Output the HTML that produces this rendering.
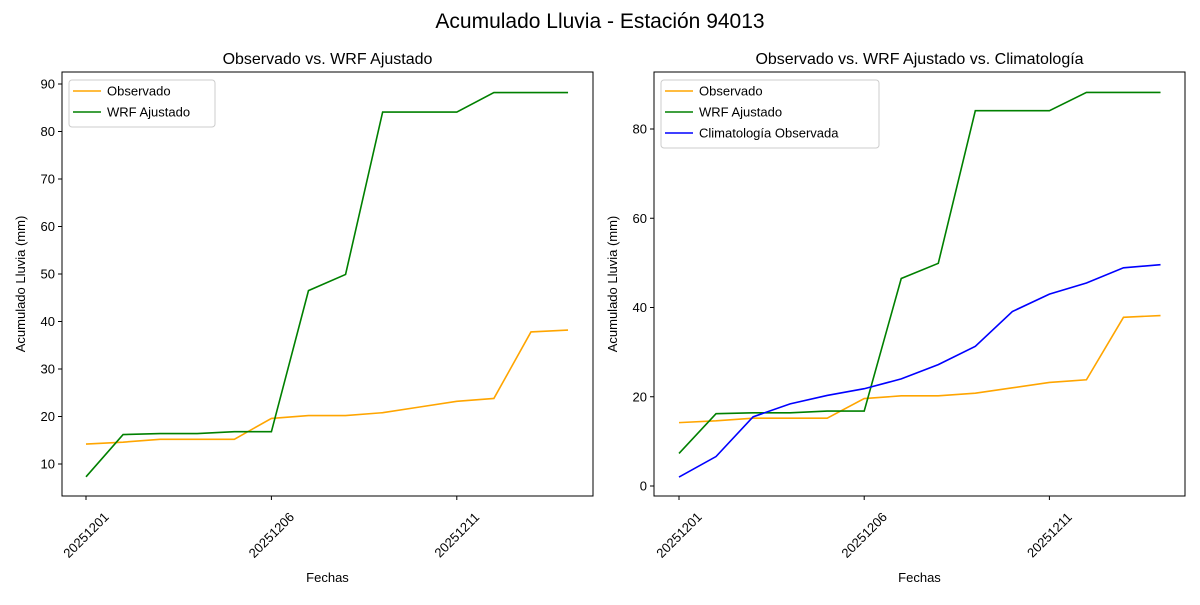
<!DOCTYPE html>
<html><head><meta charset="utf-8"><style>
body{margin:0;background:#fff}
svg text{font-family:"Liberation Sans","DejaVu Sans",sans-serif;fill:#000}
</style></head><body>
<svg id="s" width="1200" height="600" xmlns="http://www.w3.org/2000/svg">
<rect width="1200" height="600" fill="#fff"/>
<text x="600" y="28" font-size="21" text-anchor="middle">Acumulado Lluvia - Estación 94013</text>
</svg>
<script>
const s=document.getElementById('s');
const NS='http://www.w3.org/2000/svg';
function el(t,a,txt){const e=document.createElementNS(NS,t);for(const k in a)e.setAttribute(k,a[k]);if(txt!==undefined)e.textContent=txt;s.appendChild(e);return e;}
const obs=[14.2,14.6,15.2,15.2,15.2,19.6,20.2,20.2,20.8,22,23.2,23.8,37.8,38.2];
const wrf=[7.3,16.2,16.4,16.4,16.8,16.8,46.5,49.9,84.1,84.1,84.1,88.2,88.2,88.2];
const cli=[2,6.6,15.5,18.4,20.3,21.8,24,27.2,31.3,39.1,43,45.5,48.9,49.6];
function panel(x0,x1,y0,y1,xd1,dx,yf,yticks,title,series,legend){
  el('text',{x:(x0+x1)/2,y:64,'font-size':16,'text-anchor':'middle'},title);
  series.forEach(([d,c])=>{
    el('polyline',{points:d.map((v,i)=>(xd1+i*dx)+','+yf(v)).join(' '),fill:'none',stroke:c,'stroke-width':1.6});
  });
  el('rect',{x:x0,y:y0,width:x1-x0,height:y1-y0,fill:'none',stroke:'#000','stroke-width':1});
  yticks.forEach(v=>{const y=yf(v);el('line',{x1:x0-4,x2:x0,y1:y,y2:y,stroke:'#000'});
    el('text',{x:x0-7,y:y+4.5,'font-size':13,'text-anchor':'end'},v);});
  [0,5,10].forEach((d,i)=>{const x=xd1+d*dx;el('line',{x1:x,x2:x,y1:y1,y2:y1+4,stroke:'#000'});
    el('text',{x:0,y:4.5,'font-size':13,'text-anchor':'middle',transform:`translate(${x} ${y1+39}) rotate(-45)`},'202512'+['01','06','11'][i]);});
  el('text',{x:(x0+x1)/2,y:582,'font-size':13,'text-anchor':'middle'},'Fechas');
  el('text',{x:x0-37,y:(y0+y1)/2,'font-size':13,'text-anchor':'middle',transform:`rotate(-90 ${x0-37} ${(y0+y1)/2})`},'Acumulado Lluvia (mm)');
  const lw=legend.w,lh=legend.items.length*21+5;
  el('rect',{x:x0+7,y:y0+8,width:lw,height:lh,fill:'#fff',stroke:'#ccc',rx:3});
  legend.items.forEach(([t,c],i)=>{const y=y0+8+11+i*21;
    el('line',{x1:x0+11,x2:x0+39,y1:y,y2:y,stroke:c,'stroke-width':1.6});
    el('text',{x:x0+45,y:y+4.5,'font-size':13},t);});
}
panel(62,593,72,496,86,37.08,v=>464-(v-10)*4.75,[10,20,30,40,50,60,70,80,90],'Observado vs. WRF Ajustado',
 [[obs,'orange'],[wrf,'green']],{w:146,items:[['Observado','orange'],['WRF Ajustado','green']]});
panel(654,1185,72,496,679,37.04,v=>486-v*4.4625,[0,20,40,60,80],'Observado vs. WRF Ajustado vs. Climatología',
 [[obs,'orange'],[wrf,'green'],[cli,'blue']],{w:218,items:[['Observado','orange'],['WRF Ajustado','green'],['Climatología Observada','blue']]});
</script>
</body></html>
